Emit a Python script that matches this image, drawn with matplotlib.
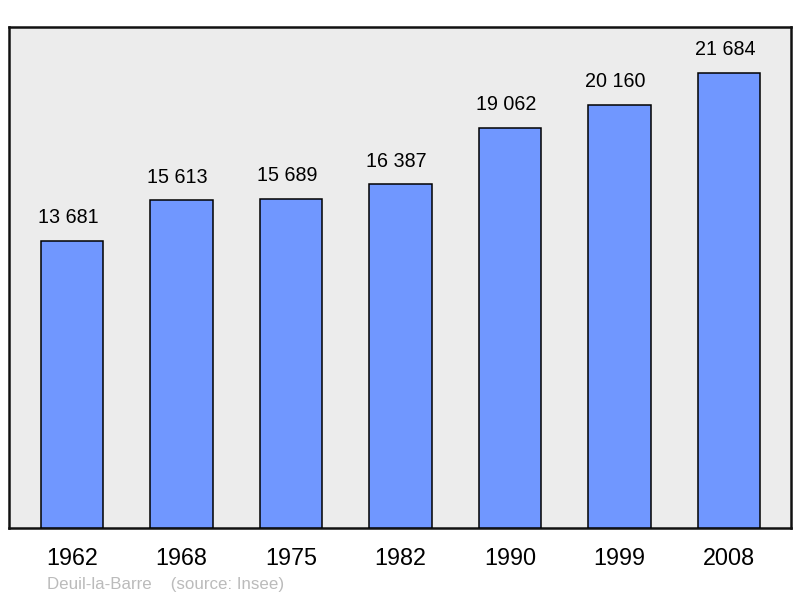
import matplotlib
matplotlib.use("Agg")
import matplotlib.pyplot as plt

years = ["1962", "1968", "1975", "1982", "1990", "1999", "2008"]
population = [13681, 15613, 15689, 16387, 19062, 20160, 21684]
labels = ["13 681", "15 613", "15 689", "16 387", "19 062", "20 160", "21 684"]

plt.rcParams['font.family'] = ['Liberation Sans', 'DejaVu Sans']

fig = plt.figure(figsize=(8, 5.98), dpi=100)
ax = fig.add_axes([8.5/800, (598-528)/598, (791-8.5)/800, (528-26.5)/598])
ax.set_facecolor('#ececec')

x = list(range(len(years)))
ax.bar(x, population, width=0.57, color='#7097ff', edgecolor='black', linewidth=1.1, zorder=3)
for xi, v, lab in zip(x, population, labels):
    ax.annotate(lab, (xi, v), xytext=(-3, 9.5), textcoords='offset points',
                ha='center', va='bottom', fontsize=14.2, color='black')

ax.set_xlim(-0.58, 6.565)
ax.set_ylim(0, 23880)
ax.set_yticks([])
ax.set_xticks(x)
ax.set_xticklabels(years, fontsize=16.8)
ax.tick_params(axis='x', length=0, pad=14)
for s in ax.spines.values():
    s.set_linewidth(1.8)
    s.set_color('#111111')

fig.text(47/800, 1 - 584/598, "Deuil-la-Barre    (source: Insee)", fontsize=12.2,
         color='#bbbbbb', ha='left', va='center')

fig.savefig('out.png', dpi=100)
